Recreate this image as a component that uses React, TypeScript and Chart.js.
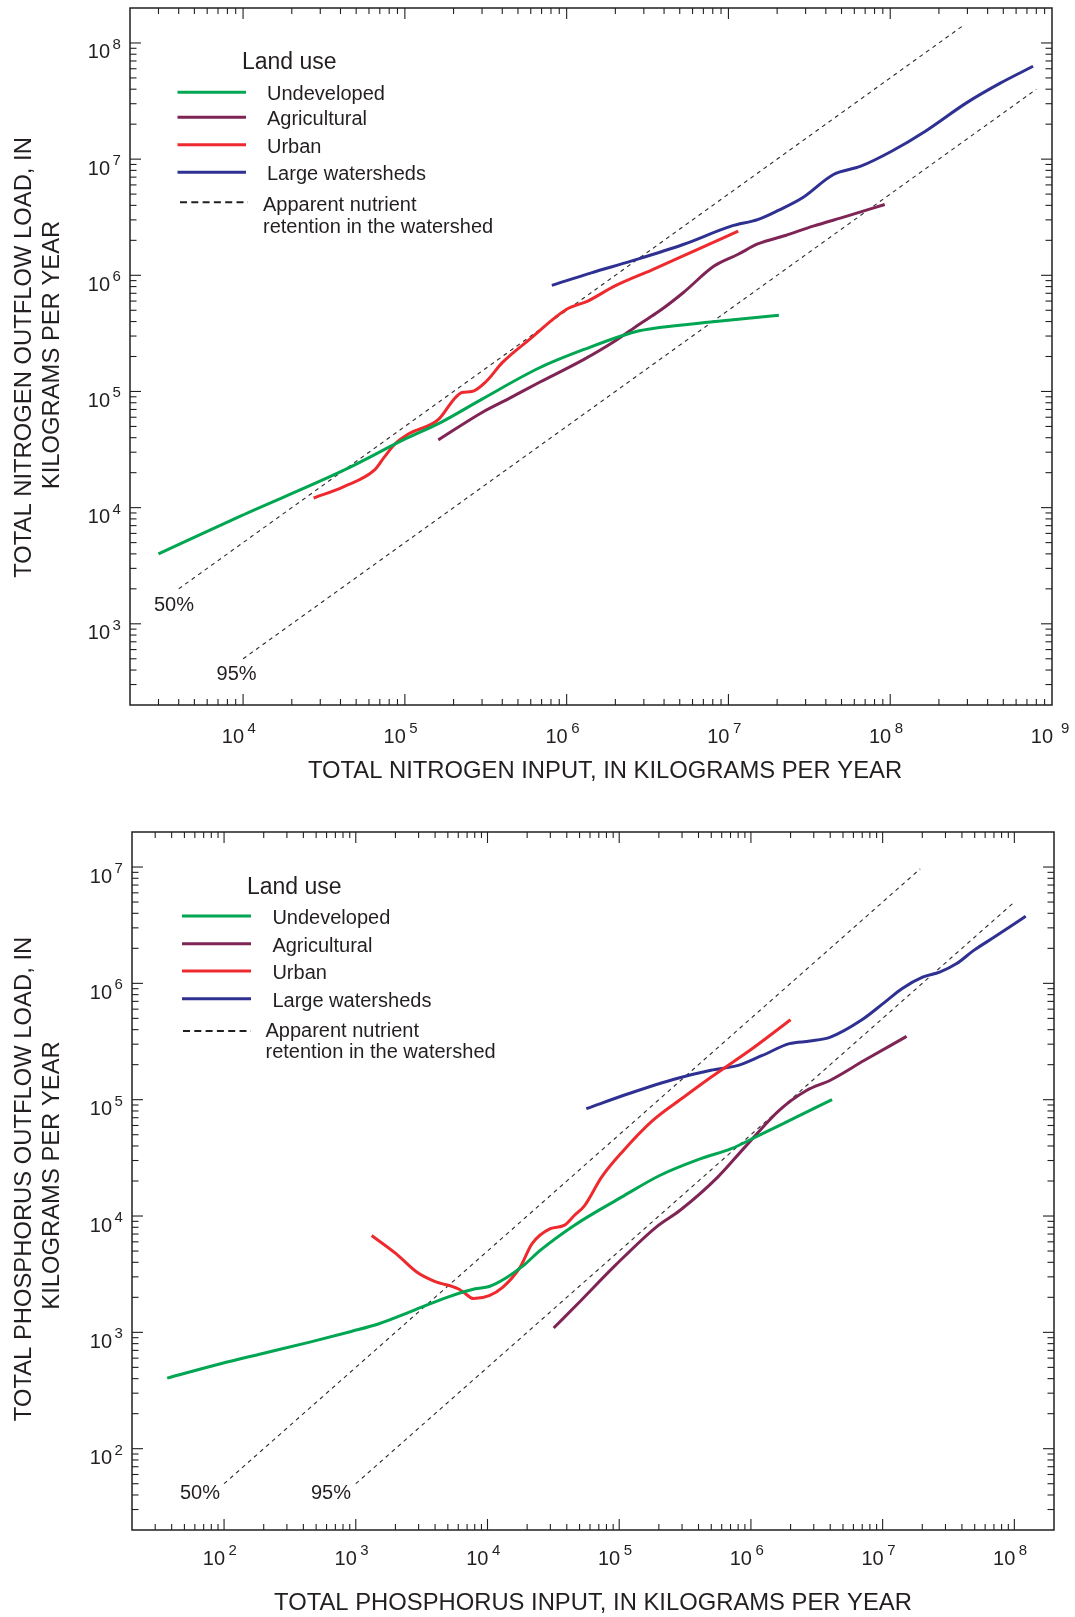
import React, { useEffect, useRef } from 'react';
import { Chart, registerables } from 'chart.js';
Chart.register(...registerables);

// ---------- Nitrogen panel data ----------
const nUndevX = [3000, 9700, 42000, 102000, 166000, 300000, 680000, 1280000, 2660000, 3740000, 7750000, 20500000];
const nUndevY = [4000, 8500, 21000, 39400, 54000, 86000, 160000, 230000, 327000, 355000, 396000, 452000];
const nAgriX = [161000, 300000, 433000, 680000, 1280000, 1990000, 2800000, 3740000, 5250000, 8150000, 11400000, 15300000, 22500000, 33400000, 54000000, 92500000];
const nAgriY = [38300, 66000, 86000, 120000, 189000, 272000, 378000, 492000, 708000, 1200000, 1510000, 1870000, 2200000, 2650000, 3230000, 4070000];
const nUrbanX = [27300, 42000, 65000, 75000, 88000, 105000, 162000, 200000, 225000, 260000, 320000, 400000, 590000, 1000000, 1350000, 1990000, 3400000, 5780000, 11500000];
const nUrbanY = [12100, 15200, 21100, 27500, 36000, 43000, 57700, 85000, 98000, 100000, 123000, 177000, 281000, 510000, 600000, 810000, 1120000, 1560000, 2400000];
const nBigX = [810000, 1420000, 2530000, 5250000, 10400000, 15300000, 20500000, 28700000, 44600000, 65800000, 102000000, 165000000, 296000000, 482000000, 764000000];
const nBigY = [820000, 1050000, 1330000, 1840000, 2650000, 3030000, 3640000, 4650000, 7380000, 8700000, 11700000, 17400000, 30500000, 45300000, 63000000];
const nRet50X = [4000, 287000000];
const nRet50Y = [2000, 143500000];
const nRet95X = [10000, 800000000];
const nRet95Y = [500, 40000000];
const nXExps = [4, 5, 6, 7, 8, 9];
const nYExps = [3, 4, 5, 6, 7, 8];

// ---------- Phosphorus panel data ----------
const pUndevX = [37, 94, 193, 448, 923, 1500, 2730, 4990, 8070, 10300, 13900, 18800, 25100, 45500, 105000, 203000, 416000, 710000, 1150000, 2210000, 4130000];
const pUndevY = [404, 537, 655, 824, 1018, 1186, 1540, 2010, 2370, 2480, 2950, 3760, 5060, 8300, 14600, 22300, 31100, 37900, 49300, 70800, 100000];
const pAgriX = [31800, 51300, 93300, 191000, 290000, 560000, 900000, 1640000, 2640000, 4010000, 7280000, 15200000];
const pAgriY = [1090, 1880, 3760, 8040, 11200, 21600, 39100, 81000, 120000, 147000, 218000, 350000];
const pUrbanX = [1320, 2020, 2900, 3920, 5980, 6550, 7840, 10300, 13100, 17700, 21800, 30000, 38100, 45600, 54600, 73500, 105000, 180000, 308000, 497000, 1020000, 2000000];
const pUrbanY = [6800, 4750, 3300, 2760, 2370, 2220, 1950, 2070, 2450, 3640, 5780, 7780, 8300, 10100, 12300, 21600, 35400, 66400, 105000, 156000, 274000, 487000];
const pBigX = [56200, 119000, 274000, 497000, 800000, 1220000, 1960000, 2810000, 4010000, 6870000, 10400000, 14000000, 20100000, 27100000, 36500000, 49200000, 70500000, 122000000];
const pBigY = [83700, 113000, 152000, 179000, 197000, 240000, 303000, 319000, 345000, 481000, 690000, 900000, 1130000, 1250000, 1480000, 1920000, 2500000, 3770000];
const pRet50X = [100, 19300000];
const pRet50Y = [50, 9650000];
const pRet95X = [1000, 100000000];
const pRet95Y = [50, 5000000];
const pXExps = [2, 3, 4, 5, 6, 7, 8];
const pYExps = [2, 3, 4, 5, 6, 7];

const legendTitle = 'Land use';
const legendLabels = ['Undeveloped', 'Agricultural', 'Urban', 'Large watersheds'];
const legendNote = ['Apparent nutrient', 'retention in the watershed'];
const pctLabels = ['50%', '95%'];

const COLORS = ['#00a651', '#7f2555', '#ee2a2e', '#2e3192'];
const INK = '#231f20';
const FONT = '"Liberation Sans", Arial, Helvetica, sans-serif';

const zip = (xs: number[], ys: number[]) => xs.map((x, i) => ({ x, y: ys[i] }));

type PanelCfg = {
  height: number;
  top: number;
  padding: { left: number; right: number; top: number; bottom: number };
  xMin: number; xMax: number; yMin: number; yMax: number;
  xExps: number[]; yExps: number[];
  xLabelOff: number;
  xEdgeSupGap: number;
  xTitle: string; xTitleX: number; xTitleY: number;
  yTitle: string[]; yTitleX: number[]; yTitleY: number[];
  leg: {
    titleX: number; titleY: number; lineX0: number; lineX1: number; lineYs: number[];
    textX: number; dashY: number; dashX0: number; dashX1: number; noteX: number; noteY: number[];
  };
  pct: { x: number; y: number }[];
  series: { x: number[]; y: number[] }[];
  ret: { x: number[]; y: number[] }[];
};

const nitrogen: PanelCfg = {
  height: 800, top: 0,
  padding: { left: 130, right: 23, top: 8, bottom: 95 },
  xMin: 2000, xMax: 1e9, yMin: 200, yMax: 2e8,
  xExps: nXExps, yExps: nYExps,
  xLabelOff: 37.5, xEdgeSupGap: 9,
  xTitle: 'TOTAL NITROGEN INPUT, IN KILOGRAMS PER YEAR', xTitleX: 605, xTitleY: 778,
  yTitle: ['TOTAL NITROGEN OUTFLOW LOAD, IN', 'KILOGRAMS PER YEAR'], yTitleX: [31, 58.5], yTitleY: [357.5, 355],
  leg: {
    titleX: 242, titleY: 69, lineX0: 177.5, lineX1: 246, lineYs: [92.3, 117.3, 144.7, 172.3],
    textX: 267, dashY: 202.3, dashX0: 180, dashX1: 248, noteX: 263, noteY: [210.5, 233],
  },
  pct: [{ x: 154, y: 610.7 }, { x: 216.6, y: 680 }],
  series: [
    { x: nUndevX, y: nUndevY }, { x: nAgriX, y: nAgriY }, { x: nUrbanX, y: nUrbanY }, { x: nBigX, y: nBigY },
  ],
  ret: [{ x: nRet50X, y: nRet50Y }, { x: nRet95X, y: nRet95Y }],
};

const phosphorus: PanelCfg = {
  height: 817, top: 800,
  padding: { left: 132, right: 21, top: 32, bottom: 87 },
  xMin: 20, xMax: 2e8, yMin: 20, yMax: 2e7,
  xExps: pXExps, yExps: pYExps,
  xLabelOff: 34.5, xEdgeSupGap: 5,
  xTitle: 'TOTAL PHOSPHORUS INPUT, IN KILOGRAMS PER YEAR', xTitleX: 593, xTitleY: 810,
  yTitle: ['TOTAL PHOSPHORUS OUTFLOW LOAD, IN', 'KILOGRAMS PER YEAR'], yTitleX: [31, 58.5], yTitleY: [379, 375.5],
  leg: {
    titleX: 247, titleY: 94, lineX0: 182, lineX1: 251, lineYs: [116, 143.7, 171, 198.7],
    textX: 272.4, dashY: 231, dashX0: 183, dashX1: 251, noteX: 265.5, noteY: [237.3, 258.3],
  },
  pct: [{ x: 180, y: 699.3 }, { x: 311, y: 699.3 }],
  series: [
    { x: pUndevX, y: pUndevY }, { x: pAgriX, y: pAgriY }, { x: pUrbanX, y: pUrbanY }, { x: pBigX, y: pBigY },
  ],
  ret: [{ x: pRet50X, y: pRet50Y }, { x: pRet95X, y: pRet95Y }],
};

function makeOverlay(cfg: PanelCfg) {
  return {
    id: 'overlay',
    afterDraw(chart: any) {
      const ctx: CanvasRenderingContext2D = chart.ctx;
      const xs = chart.scales.x;
      const ys = chart.scales.y;
      const { left, right, top, bottom } = chart.chartArea;
      ctx.save();
      ctx.strokeStyle = INK;
      ctx.fillStyle = INK;
      ctx.setLineDash([]);
      // frame
      ctx.lineWidth = 1.5;
      ctx.strokeRect(left, top, right - left, bottom - top);
      // ticks
      ctx.lineWidth = 1.1;
      const seg = (a: number, b: number, c: number, d: number) => {
        ctx.beginPath(); ctx.moveTo(a, b); ctx.lineTo(c, d); ctx.stroke();
      };
      for (let d = Math.floor(Math.log10(cfg.xMin)); d <= Math.ceil(Math.log10(cfg.xMax)); d++) {
        for (let m = 1; m <= 9; m++) {
          const v = m * Math.pow(10, d);
          if (v <= cfg.xMin * 1.001 || v >= cfg.xMax * 0.999) continue;
          const px = xs.getPixelForValue(v);
          const len = m === 1 ? 11 : 6;
          seg(px, bottom, px, bottom - len);
          seg(px, top, px, top + len);
        }
      }
      for (let d = Math.floor(Math.log10(cfg.yMin)); d <= Math.ceil(Math.log10(cfg.yMax)); d++) {
        for (let m = 1; m <= 9; m++) {
          const v = m * Math.pow(10, d);
          if (v <= cfg.yMin * 1.001 || v >= cfg.yMax * 0.999) continue;
          const py = ys.getPixelForValue(v);
          const len = m === 1 ? 11 : 6.5;
          seg(left, py, left + len, py);
          seg(right, py, right - len, py);
        }
      }
      // x tick labels
      ctx.textBaseline = 'alphabetic';
      cfg.xExps.forEach((e) => {
        const px = xs.getPixelForValue(Math.pow(10, e));
        const atEdge = Math.abs(px - right) < 2;
        ctx.font = `20px ${FONT}`;
        ctx.textAlign = 'right';
        ctx.fillText('10', px + 1, bottom + cfg.xLabelOff);
        ctx.font = `15px ${FONT}`;
        ctx.textAlign = 'left';
        ctx.fillText(String(e), px + (atEdge ? cfg.xEdgeSupGap : 4.5), bottom + cfg.xLabelOff - 10);
      });
      // y tick labels
      cfg.yExps.forEach((e) => {
        const py = ys.getPixelForValue(Math.pow(10, e));
        ctx.font = `20px ${FONT}`;
        ctx.textAlign = 'right';
        ctx.fillText('10', left - 20, py + 15.5);
        ctx.font = `15px ${FONT}`;
        ctx.textAlign = 'left';
        ctx.fillText(String(e), left - 17.5, py + 6);
      });
      // axis titles
      ctx.font = `23.8px ${FONT}`;
      ctx.textAlign = 'center';
      ctx.fillText(cfg.xTitle, cfg.xTitleX, cfg.xTitleY);
      cfg.yTitle.forEach((t, i) => {
        ctx.save();
        ctx.translate(cfg.yTitleX[i], cfg.yTitleY[i]);
        ctx.rotate(-Math.PI / 2);
        ctx.fillText(t, 0, 0);
        ctx.restore();
      });
      // legend
      const L = cfg.leg;
      ctx.textAlign = 'left';
      ctx.font = `23px ${FONT}`;
      ctx.fillText(legendTitle, L.titleX, L.titleY);
      ctx.font = `20px ${FONT}`;
      legendLabels.forEach((lab, i) => {
        ctx.strokeStyle = COLORS[i];
        ctx.lineWidth = 3;
        seg(L.lineX0, L.lineYs[i], L.lineX1, L.lineYs[i]);
        ctx.fillStyle = INK;
        ctx.fillText(lab, L.textX, L.lineYs[i] + 7.8);
      });
      ctx.strokeStyle = INK;
      ctx.lineWidth = 2;
      ctx.setLineDash([7, 4.3]);
      seg(L.dashX0, L.dashY, L.dashX1, L.dashY);
      ctx.setLineDash([]);
      legendNote.forEach((t, i) => ctx.fillText(t, L.noteX, L.noteY[i]));
      // percent labels
      cfg.pct.forEach((p, i) => ctx.fillText(pctLabels[i], p.x, p.y));
      ctx.restore();
    },
  };
}

function Panel({ cfg }: { cfg: PanelCfg }) {
  const ref = useRef<HTMLCanvasElement>(null);
  useEffect(() => {
    const datasets: any[] = [];
    cfg.series.forEach((s, i) => {
      datasets.push({
        label: legendLabels[i],
        data: zip(s.x, s.y),
        showLine: true,
        borderColor: COLORS[i],
        backgroundColor: COLORS[i],
        borderWidth: 3,
        pointRadius: 0,
        cubicInterpolationMode: 'monotone',
        fill: false,
      });
    });
    cfg.ret.forEach((r, i) => {
      datasets.push({
        label: pctLabels[i],
        data: zip(r.x, r.y),
        showLine: true,
        borderColor: '#2a2a2a',
        borderWidth: 1.1,
        borderDash: [4, 4],
        pointRadius: 0,
        tension: 0,
        fill: false,
      });
    });
    const chart = new Chart(ref.current as HTMLCanvasElement, {
      type: 'scatter',
      data: { datasets },
      options: {
        responsive: false,
        animation: false,
        devicePixelRatio: 1,
        layout: { padding: cfg.padding },
        plugins: { legend: { display: false }, tooltip: { enabled: false } },
        scales: {
          x: { type: 'logarithmic', min: cfg.xMin, max: cfg.xMax, display: false },
          y: { type: 'logarithmic', min: cfg.yMin, max: cfg.yMax, display: false },
        },
      },
      plugins: [makeOverlay(cfg)],
    } as any);
    return () => chart.destroy();
  }, [cfg]);
  return (
    <canvas
      ref={ref}
      width={1075}
      height={cfg.height}
      style={{ position: 'absolute', left: 0, top: cfg.top, width: 1075, height: cfg.height, display: 'block' }}
    />
  );
}

export default function App() {
  return (
    <div style={{ position: 'absolute', left: 0, top: 0, width: 1075, height: 1617, background: '#fff', overflow: 'hidden' }}>
      <Panel cfg={nitrogen} />
      <Panel cfg={phosphorus} />
    </div>
  );
}
